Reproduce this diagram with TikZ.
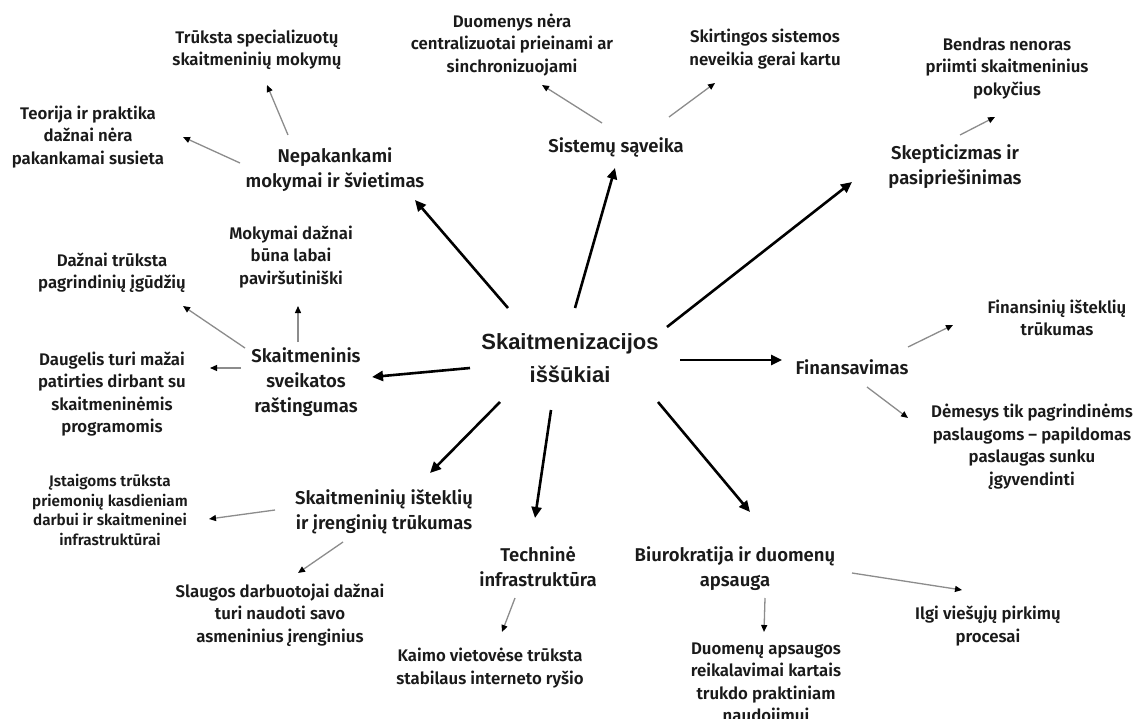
\documentclass[tikz,border=0pt]{standalone}
\usepackage{fontspec}
\setmainfont{Fira Sans}[UprightFont=* SemiBold]
\newfontfamily\hubfont{Liberation Sans}
\usetikzlibrary{arrows.meta}
\definecolor{ink}{HTML}{1A1A1A}
\definecolor{subgray}{HTML}{8C8C8C}
\begin{document}
\begin{tikzpicture}[x=1pt,y=-1pt,
  hub/.style={font=\hubfont\bfseries\fontsize{22}{33}\selectfont, align=center, inner sep=0pt, text=ink},
  topic/.style={font=\fontsize{18.5}{25}\selectfont, align=center, inner sep=0pt, text=ink},
  detail/.style={font=\fontsize{16.8}{22.5}\selectfont, align=center, inner sep=0pt, text=ink},
  smalldetail/.style={font=\fontsize{15.3}{19.5}\selectfont, align=center, inner sep=0pt, text=ink},
  mainarrow/.style={draw=black, line width=2.6pt, -{Triangle[length=11pt,width=10pt,color=black]}},
  subarrow/.style={draw=subgray, line width=1.3pt, -{Triangle[length=7pt,width=6pt,color=black]}}]

\fill[white] (0,0) rectangle (1140,719);
\useasboundingbox (0,0) rectangle (1140,719);

% hub
\node[hub] (c) at (570,358) {Skaitmenizacijos\\iššūkiai};

% first-level topics
\node[topic] (nep)  at (335,170) {Nepakankami\\mokymai ir švietimas};
\node[topic] (sys)  at (616,147) {Sistemų sąveika};
\node[topic] (skep) at (955,167) {Skepticizmas ir\\pasipriešinimas};
\node[topic] (fin)  at (852,367) {Finansavimas};
\node[topic] (lit)  at (306,382) {Skaitmeninis\\sveikatos\\raštingumas};
\node[topic] (res)  at (384,512) {Skaitmeninių išteklių\\ir įrenginių trūkumas};
\node[topic] (tech) at (538,567) {Techninė\\infrastruktūra};
\node[topic] (bur)  at (735,569) {Biurokratija ir duomenų\\apsauga};

% details
\node[detail] (tsm) at (257,50)  {Trūksta specializuotų\\skaitmeninių mokymų};
\node[detail] (teo) at (88,137)  {Teorija ir praktika\\dažnai nėra\\pakankamai susieta};
\node[detail] (duo) at (512,45)  {Duomenys nėra\\centralizuotai prieinami ar\\sinchronizuojami};
\node[detail] (ski) at (765,49)  {Skirtingos sistemos\\neveikia gerai kartu};
\node[detail] (ben) at (1007,68) {Bendras nenoras\\priimti skaitmeninius\\pokyčius};
\node[detail] (daz) at (112,273) {Dažnai trūksta\\pagrindinių įgūdžių};
\node[detail] (mok) at (291,257) {Mokymai dažnai\\būna labai\\paviršutiniški};
\node[detail] (dau) at (112,394) {Daugelis turi mažai\\patirties dirbant su\\skaitmeninėmis\\programomis};
\node[detail] (fis) at (1057,318) {Finansinių išteklių\\trūkumas};
\node[detail] (dem) at (1032,447) {Dėmesys tik pagrindinėms\\paslaugoms – papildomas\\paslaugas sunku\\įgyvendinti};
\node[smalldetail] (ist) at (110,510) {Įstaigoms trūksta\\priemonių kasdieniam\\darbui ir skaitmeninei\\infrastruktūrai};
\node[detail] (sla) at (280,615) {Slaugos darbuotojai dažnai\\turi naudoti savo\\asmeninius įrenginius};
\node[detail] (kai) at (490,668) {Kaimo vietovėse trūksta\\stabilaus interneto ryšio};
\node[detail] (dap) at (766,684) {Duomenų apsaugos\\reikalavimai kartais\\trukdo praktiniam\\naudojimui};
\node[detail] (ilg) at (988,626) {Ilgi viešųjų pirkimų\\procesai};

% hub to topics
\draw[mainarrow] ([shift={(-62,-50)}]c.center) -- ([shift={(80,30)}]nep.center);
\draw[mainarrow] ([shift={(5,-50)}]c.center)   -- ([shift={(-1,21)}]sys.center);
\draw[mainarrow] ([shift={(97,-31)}]c.center)  -- ([shift={(-103,15)}]skep.center);
\draw[mainarrow] ([shift={(110,2)}]c.center)   -- ([shift={(-70,-7)}]fin.center);
\draw[mainarrow] ([shift={(-100,10)}]c.center) -- ([shift={(66,-5)}]lit.center);
\draw[mainarrow] ([shift={(-70,44)}]c.center)  -- ([shift={(46,-39)}]res.center);
\draw[mainarrow] ([shift={(-19,52)}]c.center)  -- ([shift={(-3,-49)}]tech.center);
\draw[mainarrow] ([shift={(88,44)}]c.center)   -- ([shift={(15,-57)}]bur.center);

% topics to details
\draw[subarrow] ([shift={(-47,-35)}]nep.center) -- ([shift={(10,35)}]tsm.center);
\draw[subarrow] ([shift={(-95,-7)}]nep.center)  -- ([shift={(95,0)}]teo.center);
\draw[subarrow] ([shift={(-14,-24)}]sys.center) -- ([shift={(30,40)}]duo.center);
\draw[subarrow] ([shift={(53,-30)}]sys.center)  -- ([shift={(-50,34)}]ski.center);
\draw[subarrow] ([shift={(5,-32)}]skep.center)  -- ([shift={(-12,49)}]ben.center);
\draw[subarrow] ([shift={(-61,-34)}]lit.center) -- ([shift={(71,33)}]daz.center);
\draw[subarrow] ([shift={(-8,-40)}]lit.center)  -- ([shift={(7,49)}]mok.center);
\draw[subarrow] ([shift={(-65,-14)}]lit.center) -- ([shift={(98,-26)}]dau.center);
\draw[subarrow] ([shift={(56,-20)}]fin.center)  -- ([shift={(-104,7)}]fis.center);
\draw[subarrow] ([shift={(15,20)}]fin.center)   -- ([shift={(-124,-29)}]dem.center);
\draw[subarrow] ([shift={(-109,-2)}]res.center) -- ([shift={(99,9)}]ist.center);
\draw[subarrow] ([shift={(-41,30)}]res.center)  -- ([shift={(18,-42)}]sla.center);
\draw[subarrow] ([shift={(-23,31)}]tech.center) -- ([shift={(12,-36)}]kai.center);
\draw[subarrow] ([shift={(30,29)}]bur.center)   -- ([shift={(-2,-52)}]dap.center);
\draw[subarrow] ([shift={(117,4)}]bur.center)   -- ([shift={(-26,-36)}]ilg.center);
\end{tikzpicture}
\end{document}
